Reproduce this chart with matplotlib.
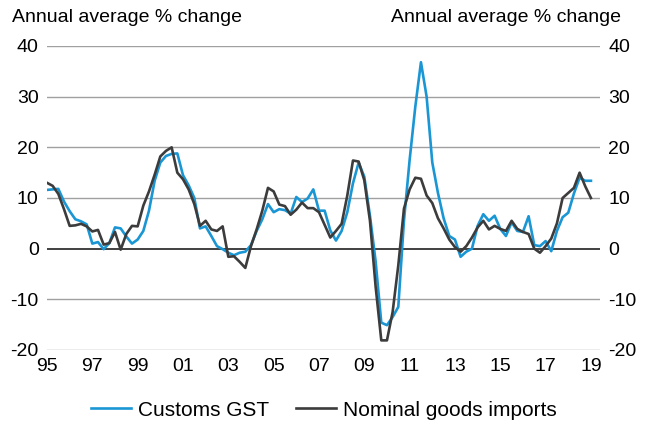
import numpy as np
import matplotlib
matplotlib.use("Agg")
import matplotlib.pyplot as plt

plt.rcParams['font.family'] = ['Liberation Sans', 'DejaVu Sans']
plt.rcParams['axes.unicode_minus'] = False

# quarterly, starting 1995 Q1
start_year = 1995
customs_gst = [11.6, 11.7, 11.8, 9.3, 7.4, 5.8, 5.4, 4.8, 1.0, 1.3, -0.1, 1.1,
               4.2, 4.0, 2.4, 1.0, 1.8, 3.5, 7.5, 13.4, 17.0, 18.3, 18.7, 18.8,
               14.5, 12.5, 10.0, 4.0, 4.4, 2.5, 0.5, -0.1, -0.8, -1.3, -0.8, -0.6,
               0.7, 3.5, 5.8, 8.8, 7.2, 7.8, 7.6, 6.9, 10.2, 9.2, 9.9, 11.7,
               7.5, 7.5, 3.6, 1.6, 3.5, 7.2, 12.9, 17.0, 14.2, 6.5, -2.5, -14.6,
               -15.1, -13.5, -11.5, 5.5, 17.5, 28.0, 36.8, 30.0, 17.0, 11.0, 6.0, 2.5,
               1.8, -1.6, -0.6, 0.0, 4.5, 6.8, 5.5, 6.5, 3.9, 2.5, 5.2, 3.5,
               3.3, 6.4, 0.7, 0.5, 1.5, -0.5, 3.5, 6.2, 7.1, 10.9, 14.0, 13.4, 13.4]
goods_imports = [13.0, 12.4, 10.8, 7.8, 4.5, 4.6, 4.9, 4.4, 3.4, 3.7, 0.8, 1.1,
                 3.3, -0.2, 2.9, 4.5, 4.4, 8.5, 11.3, 14.6, 18.2, 19.3, 20.0, 15.0,
                 13.7, 11.7, 8.8, 4.5, 5.5, 3.8, 3.5, 4.4, -1.6, -1.5, -2.6, -3.8,
                 0.5, 3.8, 7.5, 12.0, 11.3, 8.7, 8.4, 6.7, 7.7, 9.1, 8.0, 8.0,
                 7.2, 4.7, 2.2, 3.5, 4.9, 10.5, 17.4, 17.2, 13.5, 5.5, -7.5, -18.1,
                 -18.1, -12.5, -3.3, 7.9, 11.7, 14.0, 13.8, 10.5, 9.0, 6.0, 4.0, 1.8,
                 0.3, -0.6, 0.5, 2.2, 4.2, 5.5, 3.8, 4.5, 3.9, 3.5, 5.5, 3.9,
                 3.3, 2.9, 0.0, -0.8, 0.5, 2.0, 5.0, 10.0, 11.0, 12.0, 15.0, 12.3, 10.0]
tick_years = list(range(1995, 2020, 2))
tick_labels = ['%02d' % (y % 100) for y in tick_years]
y_ticks = [-20, -10, 0, 10, 20, 30, 40]

x = start_year + np.arange(len(customs_gst)) / 4.0

fig = plt.figure(figsize=(6.49, 4.25), dpi=100)
ax = fig.add_axes([47/649, 1 - 350/425, 553/649, 304/425])

for v in y_ticks:
	if v == 0:
		ax.axhline(v, color='#404040', lw=1.4, zorder=1)
	else:
		ax.axhline(v, color='#a0a0a0', lw=1.0, zorder=1)

ax.plot(x, customs_gst, color='#1a96d4', lw=1.9, label='Customs GST', zorder=2)
ax.plot(x, goods_imports, color='#3c3c3c', lw=1.9, label='Nominal goods imports', zorder=3)

ax.set_xlim(1995, 2019.4)
ax.set_ylim(-20, 40)
ax.set_yticks(y_ticks)
ax.set_xticks(tick_years)
ax.set_xticklabels(tick_labels)
for s in ax.spines.values():
	s.set_visible(False)
ax.tick_params(axis='both', length=0, labelsize=14)
ax.tick_params(axis='y', labelright=True, pad=6)
ax.tick_params(axis='x', pad=6)

fig.text(12/649, 1 - 18/425, 'Annual average % change', fontsize=14, va='center', ha='left')
fig.text(621/649, 1 - 18/425, 'Annual average % change', fontsize=14, va='center', ha='right')

fig.legend(loc='center', bbox_to_anchor=(324/649, 1 - 410/425), ncol=2, frameon=False,
           fontsize=15, handlelength=1.9, columnspacing=1.3, handletextpad=0.35)

fig.savefig('out.png', dpi=100)
